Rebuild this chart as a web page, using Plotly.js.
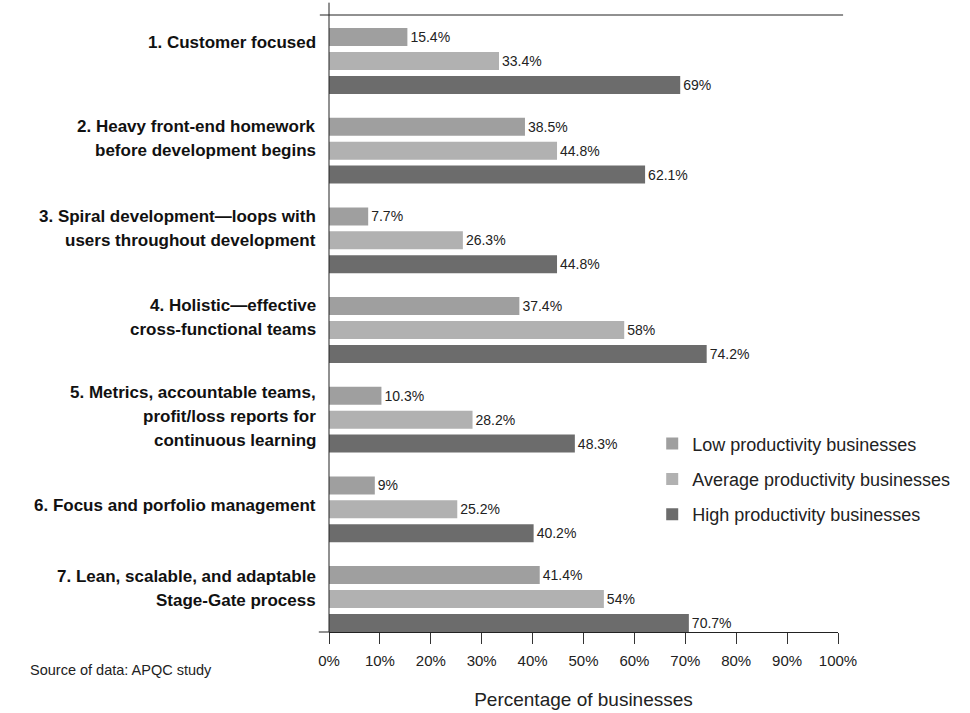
<!DOCTYPE html>
<html>
<head>
<meta charset="utf-8">
<script src="https://cdn.plot.ly/plotly-3.0.1.min.js"></script>
<style>html,body{margin:0;padding:0;background:#fff;}#chart{width:970px;height:713px;}</style>
</head>
<body>
<div id="chart"></div>
<script>
// ---- data ----
var categories = ["c1","c2","c3","c4","c5","c6","c7"];
var categoryLines = [
  ["1. Customer focused"],
  ["2. Heavy front-end homework", "before development begins"],
  ["3. Spiral development\u2014loops with", "users throughout development"],
  ["4. Holistic\u2014effective", "cross-functional teams"],
  ["5. Metrics, accountable teams,", "profit/loss reports for", "continuous learning"],
  ["6. Focus and porfolio management"],
  ["7. Lean, scalable, and adaptable", "Stage-Gate process"]
];
var seriesNames = ["Low productivity businesses", "Average productivity businesses", "High productivity businesses"];
var lowValues  = [15.4, 38.5, 7.7, 37.4, 10.3, 9, 41.4];
var avgValues  = [33.4, 44.8, 26.3, 58, 28.2, 25.2, 54];
var highValues = [69, 62.1, 44.8, 74.2, 48.3, 40.2, 70.7];
var tickVals   = [0,10,20,30,40,50,60,70,80,90,100];
var tickLabels = ["0%","10%","20%","30%","40%","50%","60%","70%","80%","90%","100%"];
var sourceNote = "Source of data: APQC study";
var xTitle = "Percentage of businesses";

// ---- style ----
var FONT = "Liberation Sans, Arial, sans-serif";
var colors = ["#9f9f9f", "#b1b1b1", "#6c6c6c"];
var firstLineShift = [-19, -24, -24, -25, -27, -4, -23]; // px offsets of first label line from group centre
var lineStep = 24;

var valueSets = [lowValues, avgValues, highValues];
var traces = valueSets.map(function (vals, i) {
  return {
    type: "bar",
    orientation: "h",
    name: seriesNames[i],
    legendgroup: "g" + i,
    y: categories,
    x: vals,
    marker: {color: colors[i], line: {width: 0}},
    text: vals.map(function (v) { return v + "%"; }),
    textposition: "outside",
    textfont: {family: FONT, size: 14, color: "#222"},
    cliponaxis: false,
    hoverinfo: "skip"
  };
});

var annotations = [];
categoryLines.forEach(function (lines, ci) {
  lines.forEach(function (ln, li) {
    annotations.push({
      xref: "paper", yref: "y", x: -0.022, y: categories[ci],
      xanchor: "right", yanchor: "middle",
      yshift: -(firstLineShift[ci] + li * lineStep),
      text: "<b>" + ln + "</b>", showarrow: false,
      font: {family: FONT, size: 17, color: "#111"}
    });
  });
});
annotations.push({
  xref: "paper", yref: "paper", x: -0.591, y: -0.0616,
  xanchor: "left", yanchor: "middle", showarrow: false,
  text: sourceNote,
  font: {family: FONT, size: 14.5, color: "#222"}
});

var layout = {
  width: 970, height: 713,
  margin: {l: 329, r: 132, t: 15, b: 81},
  paper_bgcolor: "#fff", plot_bgcolor: "#fff",
  barmode: "group", bargap: 0.2, bargroupgap: 0.25,
  showlegend: true,
  legend: {
    x: 0.635, y: 0.335, xanchor: "left", yanchor: "top",
    bgcolor: "rgba(0,0,0,0)", tracegroupgap: 9, traceorder: "grouped",
    font: {family: FONT, size: 18, color: "#222"}
  },
  xaxis: {
    range: [0, 100], autorange: false,
    tickvals: tickVals, ticktext: tickLabels,
    ticks: "outside", ticklen: 11, tickcolor: "#333", tickwidth: 1,
    ticklabelstandoff: 4,
    showline: true, linecolor: "#222", linewidth: 1,
    showgrid: false, zeroline: false,
    tickfont: {family: FONT, size: 15, color: "#222"},
    title: {text: xTitle, standoff: 24, font: {family: FONT, size: 19, color: "#222"}}
  },
  yaxis: {
    type: "category", categoryorder: "array", categoryarray: categories,
    range: [6.368, -0.513], autorange: false,
    showticklabels: false, ticks: "", showgrid: false, zeroline: false, showline: false
  },
  shapes: [
    {type: "line", xref: "paper", yref: "paper", x0: 0, x1: 0, y0: 0, y1: 1.02, line: {color: "#222", width: 1}},
    {type: "line", xref: "paper", yref: "paper", x0: -0.018, x1: 1.01, y0: 1, y1: 1, line: {color: "#222", width: 1}},
    {type: "line", xref: "paper", yref: "paper", x0: -0.02, x1: 0, y0: 0, y1: 0, line: {color: "#222", width: 1}}
  ],
  annotations: annotations
};

Plotly.newPlot("chart", traces, layout, {displayModeBar: false, staticPlot: true});
</script>
</body>
</html>
